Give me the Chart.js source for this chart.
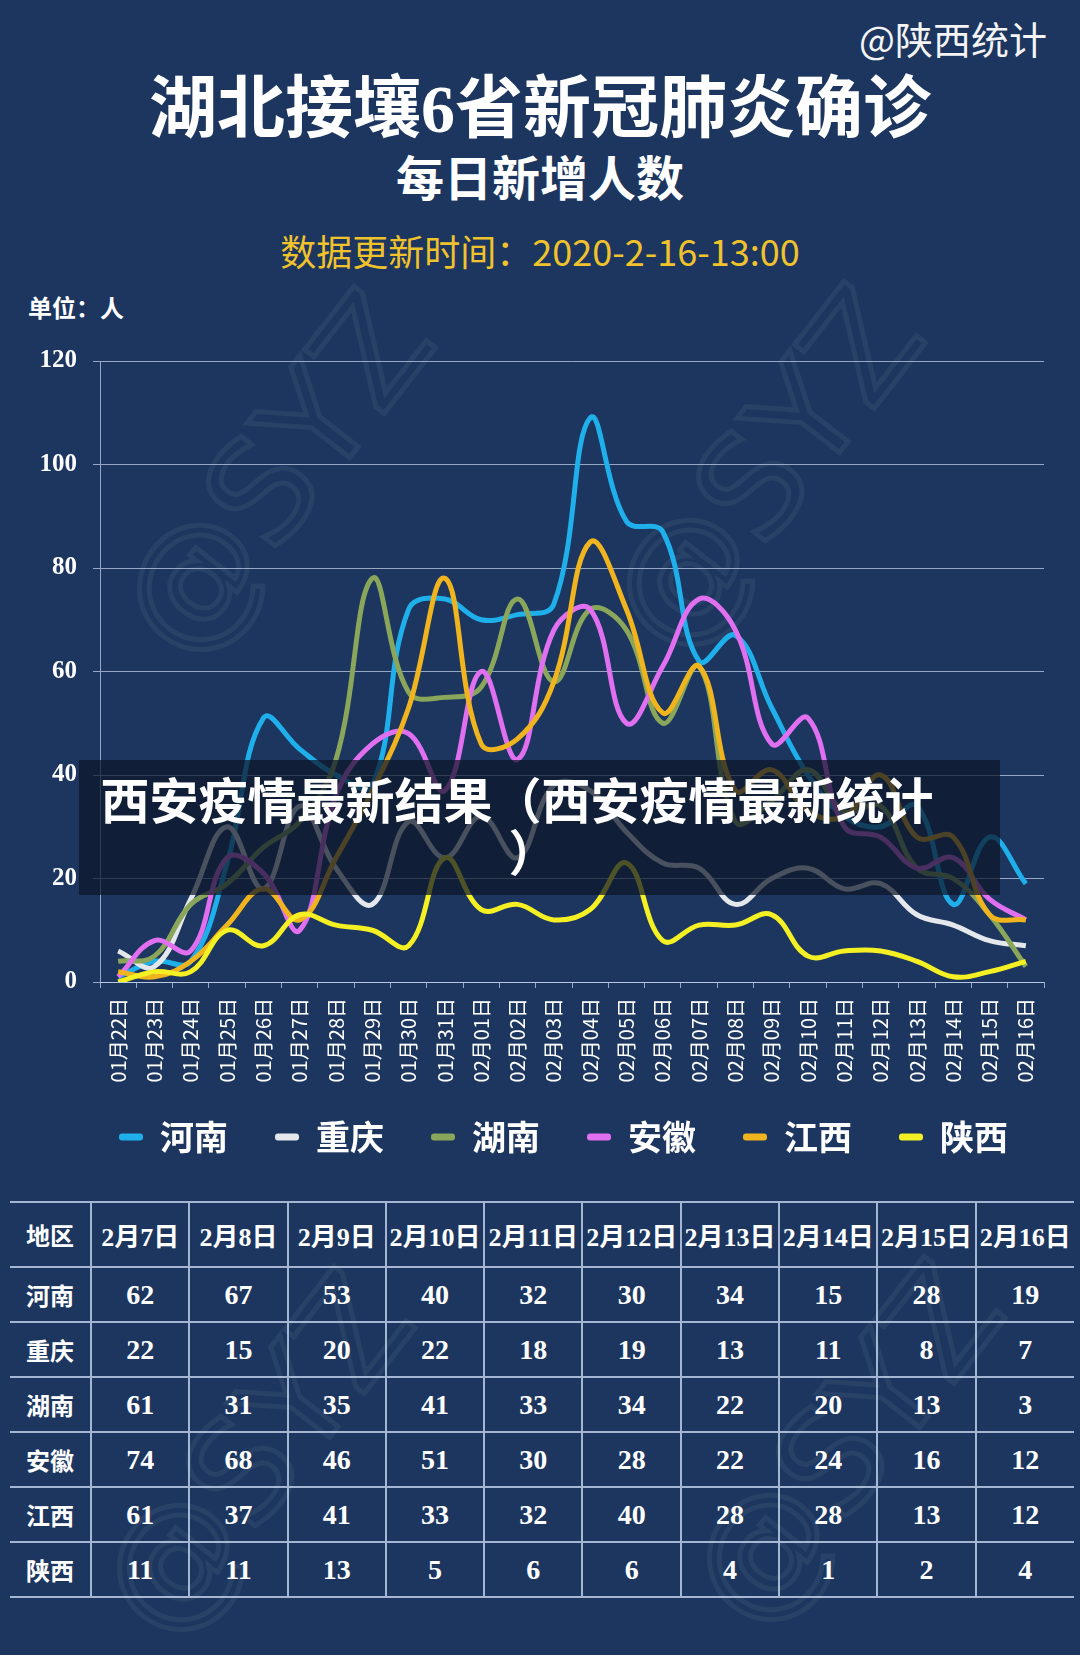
<!DOCTYPE html>
<html>
<head>
  <meta charset="utf-8">
  <title>湖北接壤6省新冠肺炎确诊</title>
  <script src="https://cdn.jsdelivr.net/npm/chart.js@4.4.1/dist/chart.umd.min.js"></script>
  <style>
body {
  margin: 0;
  width: 1080px;
  height: 1655px;
  position: relative;
  overflow: hidden;
  background: #1c365f;
  color: #fff;
  font-family: "Noto Sans CJK SC", sans-serif;
}

.abs {
  position: absolute;
  white-space: nowrap;
}

#source { right: 33px; top: 14px; font-size: 38px; line-height: 48px; color: #f4f4f4; }
#title { left: 0; width: 1080px; top: 63px; text-align: center; font-size: 68px; line-height: 80px; font-weight: bold; }
#title .num { font-family: "Liberation Serif", serif; }
#subtitle { left: 0; width: 1080px; top: 145px; text-align: center; font-size: 48px; line-height: 60px; font-weight: bold; }
#updated { left: 0; width: 1080px; top: 227px; text-align: center; font-size: 36px; line-height: 46px; color: #f0c22c; }
#unit { left: 28px; top: 292px; font-size: 24px; line-height: 30px; font-weight: bold; }

.mark {
  position: absolute;
  font-family: "DejaVu Sans", sans-serif;
  font-size: 140px;
  line-height: 140px;
  color: transparent;
  -webkit-text-stroke: 5px rgba(255, 255, 255, 0.055);
  transform: rotate(-52deg);
  white-space: nowrap;
}

#chartBox { position: absolute; left: 0; top: 330px; width: 1110px; height: 850px; }

#banner {
  position: absolute;
  left: 79px;
  top: 760px;
  width: 921px;
  height: 135px;
  background: rgba(12, 22, 40, 0.72);
}
#banner div {
  position: absolute;
  left: 16px;
  top: 12px;
  width: 844px;
  text-align: center;
  font-size: 49px;
  line-height: 52px;
  font-weight: bold;
  white-space: nowrap;
}
#banner span { position: relative; left: 16px; }

#table {
  position: absolute;
  left: 10px;
  top: 1201px;
  width: 1064px;
  border-collapse: collapse;
  table-layout: fixed;
}
#table td {
  border-top: 2px solid rgba(200, 215, 240, 0.8);
  border-bottom: 2px solid rgba(200, 215, 240, 0.8);
  border-left: 2px solid rgba(200, 215, 240, 0.8);
  text-align: center;
  padding: 0;
  height: 53px;
  font-family: "Liberation Serif", "Noto Sans CJK SC", serif;
  font-weight: bold;
  font-size: 28px;
}
#table td:first-child { border-left: none; width: 80px; font-family: "Noto Sans CJK SC", sans-serif; font-size: 24px; }
#table tr.head td { height: 63px; font-size: 26px; }
#table tr.head td:first-child { font-size: 24px; }
  </style>
</head>
<body>
  <div class="mark" style="left: 70px; top: 405px;">@SYZ</div>
  <div class="mark" style="left: 560px; top: 400px;">@SYZ</div>
  <div class="mark" style="left: 50px; top: 1385px;">@SYZ</div>
  <div class="mark" style="left: 640px; top: 1375px;">@SYZ</div>

  <div id="source" class="abs">@陕西统计</div>
  <div id="title" class="abs">湖北接壤<span class="num">6</span>省新冠肺炎确诊</div>
  <div id="subtitle" class="abs">每日新增人数</div>
  <div id="updated" class="abs">数据更新时间：2020-2-16-13:00</div>
  <div id="unit" class="abs">单位：人</div>

  <div id="chartBox">
    <canvas id="lineChart" width="1110" height="850"></canvas>
  </div>

  <div id="banner"><div>西安疫情最新结果（西安疫情最新统计<br><span>）</span></div></div>

  <table id="table"></table>

  <script type="text/javascript">
    // dates on the x axis
    var dates = ['01月22日', '01月23日', '01月24日', '01月25日', '01月26日', '01月27日', '01月28日',
      '01月29日', '01月30日', '01月31日', '02月01日', '02月02日', '02月03日', '02月04日', '02月05日',
      '02月06日', '02月07日', '02月08日', '02月09日', '02月10日', '02月11日', '02月12日', '02月13日',
      '02月14日', '02月15日', '02月16日'];

    // daily new confirmed cases per province
    var henan = [1, 4, 4, 23, 51, 45, 40, 38, 72, 74, 70, 71, 73, 109, 89, 87, 62, 67, 53, 40, 32, 30, 34, 15, 28, 19];
    var chongqing = [6, 3, 16, 30, 18, 34, 22, 15, 31, 24, 32, 24, 38, 37, 29, 23, 22, 15, 20, 22, 18, 19, 13, 11, 8, 7];
    var hunan = [4, 5, 15, 19, 26, 31, 43, 78, 56, 55, 57, 74, 58, 72, 68, 50, 61, 31, 35, 41, 33, 34, 22, 20, 13, 3];
    var anhui = [1, 8, 6, 24, 21, 10, 36, 46, 48, 37, 60, 43, 68, 72, 50, 61, 74, 68, 46, 51, 30, 28, 22, 24, 16, 12];
    var jiangxi = [2, 1, 4, 11, 18, 12, 24, 37, 53, 78, 46, 47, 58, 85, 72, 52, 61, 37, 41, 33, 32, 40, 28, 28, 13, 12];
    var shaanxi = [0, 2, 2, 10, 7, 13, 11, 10, 7, 24, 14, 15, 12, 14, 23, 8, 11, 11, 13, 5, 6, 6, 4, 1, 2, 4];

    var regions = ['河南', '重庆', '湖南', '安徽', '江西', '陕西'];
    var yTicks = [0, 20, 40, 60, 80, 100, 120];

    // the table shows the last 10 days
    var tableDates = ['2月7日', '2月8日', '2月9日', '2月10日', '2月11日', '2月12日', '2月13日', '2月14日', '2月15日', '2月16日'];

    var series = [henan, chongqing, hunan, anhui, jiangxi, shaanxi];
    var colors = ['#1fb0ec', '#e4e8ec', '#8aa65a', '#e070f0', '#f0b41e', '#f4f024'];
    var gridColor = 'rgba(200, 215, 240, 0.7)';

    var datasets = series.map(function(values, i) {
      return {
        label: regions[i],
        data: values,
        borderColor: colors[i],
        backgroundColor: colors[i],
        borderWidth: 5,
        pointRadius: 0,
        tension: 0.4,
        fill: false,
        order: series.length - i
      };
    });

    var ctx = document.getElementById('lineChart').getContext('2d');
    var lineChart = new Chart(ctx, {
      type: 'line',
      data: {
        labels: dates,
        datasets: datasets
      },
      options: {
        responsive: false,
        animation: false,
        devicePixelRatio: 1,
        layout: {
          padding: { left: 34, right: 0, top: 27, bottom: 16 }
        },
        plugins: {
          tooltip: { enabled: false },
          legend: {
            position: 'bottom',
            labels: {
              color: '#ffffff',
              font: { family: 'Noto Sans CJK SC', size: 34, weight: 'bold' },
              boxWidth: 24,
              boxHeight: 7,
              padding: 30,
              useBorderRadius: true,
              borderRadius: 3,
              sort: function(a, b) { return a.datasetIndex - b.datasetIndex; },
              generateLabels: function(chart) {
                var items = Chart.defaults.plugins.legend.labels.generateLabels(chart);
                items.forEach(function(item) {
                  // en space after the name widens the gap to the next item
                  item.text = regions[item.datasetIndex] + '\u2002';
                  item.fillStyle = colors[item.datasetIndex];
                  item.lineWidth = 0;
                  item.borderRadius = 3;
                });
                return items;
              }
            }
          }
        },
        scales: {
          x: {
            offset: true,
            grid: {
              offset: true,
              drawOnChartArea: false,
              drawTicks: true,
              tickLength: 6,
              color: gridColor
            },
            border: { color: gridColor },
            ticks: {
              color: '#ffffff',
              font: { family: 'Noto Sans CJK SC', size: 20 },
              maxRotation: 90,
              minRotation: 90,
              autoSkip: false,
              padding: 10
            },
            afterFit: function(scale) { scale.height = 108; }
          },
          y: {
            min: 0,
            max: 120,
            afterBuildTicks: function(scale) {
              scale.ticks = yTicks.map(function(v) { return { value: v }; });
            },
            ticks: {
              color: '#ffffff',
              font: { family: 'Liberation Serif', size: 25, weight: 'bold' },
              padding: 16
            },
            grid: { color: gridColor, tickLength: 7 },
            border: { color: gridColor },
            afterFit: function(scale) { scale.width = 66; }
          },
          // empty right axis keeps the plot off the right edge
          y2: {
            position: 'right',
            display: true,
            grid: { display: false },
            ticks: { display: false },
            border: { display: false },
            afterFit: function(scale) { scale.width = 66; }
          }
        }
      }
    });

    // table of the last 10 days, built from the same series
    var table = document.getElementById('table');
    var head = '<tr class="head"><td>地区</td>';
    tableDates.forEach(function(d) { head += '<td>' + d + '</td>'; });
    head += '</tr>';
    var rows = '';
    var start = dates.length - tableDates.length;
    series.forEach(function(values, i) {
      rows += '<tr><td>' + regions[i] + '</td>';
      values.slice(start).forEach(function(v) { rows += '<td>' + v + '</td>'; });
      rows += '</tr>';
    });
    table.innerHTML = head + rows;
  </script>
</body>
</html>
